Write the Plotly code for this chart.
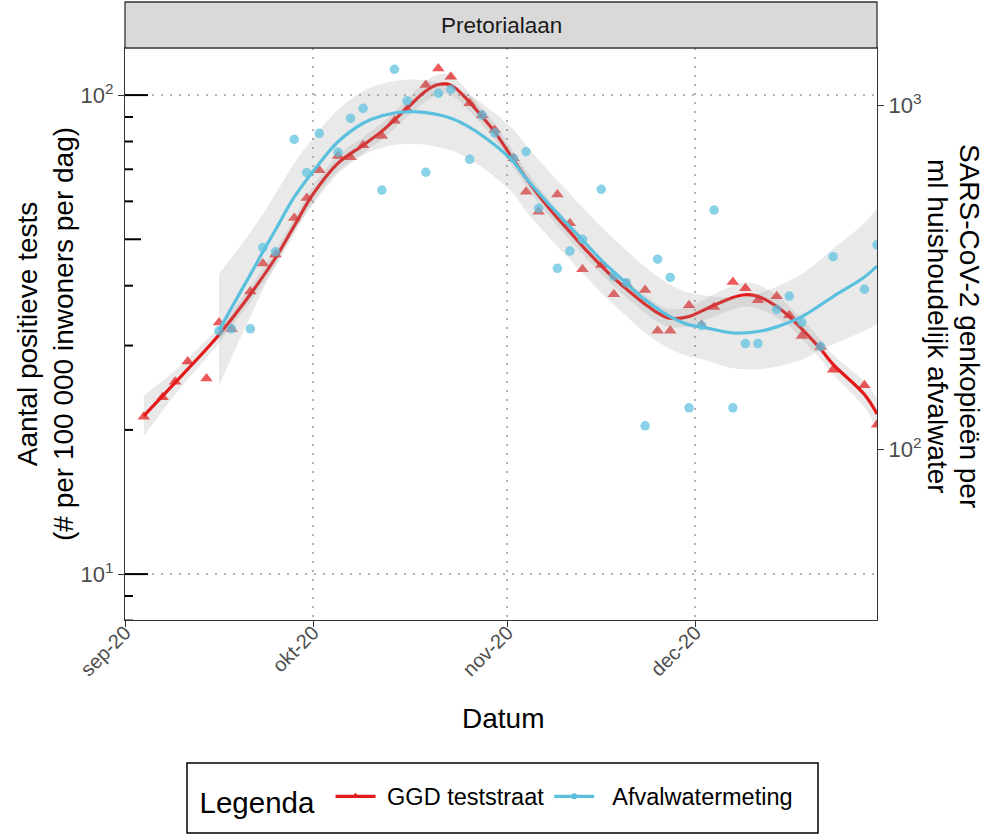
import math
import plotly.graph_objects as go

# ---- GGD teststraat: positive tests per 100 000 inhabitants per day ----
ggd_dates = [
    "2020-09-04", "2020-09-07", "2020-09-09", "2020-09-11", "2020-09-14", "2020-09-16",
    "2020-09-18", "2020-09-21", "2020-09-23", "2020-09-25", "2020-09-28", "2020-09-30",
    "2020-10-02", "2020-10-05", "2020-10-07", "2020-10-09", "2020-10-12", "2020-10-14",
    "2020-10-16", "2020-10-19", "2020-10-21", "2020-10-23", "2020-10-26", "2020-10-28",
    "2020-10-30", "2020-11-02", "2020-11-04", "2020-11-06", "2020-11-09", "2020-11-11",
    "2020-11-13", "2020-11-16", "2020-11-18", "2020-11-20", "2020-11-23", "2020-11-25",
    "2020-11-27", "2020-11-30", "2020-12-02", "2020-12-04", "2020-12-07", "2020-12-09",
    "2020-12-11", "2020-12-14", "2020-12-16", "2020-12-18", "2020-12-21", "2020-12-23",
    "2020-12-28", "2020-12-30",
]
ggd_values = [
    21.3, 23.4, 25.2, 27.8, 25.6, 33.5, 32.5, 38.9, 44.5, 46.5, 55.4, 61.0,
    69.7, 74.6, 74.2, 78.6, 82.1, 88.4, 93.4, 105.0, 113.7, 109.2, 96.1, 90.8,
    84.5, 73.8, 62.8, 57.1, 62.0, 54.0, 43.3, 44.2, 38.4, 40.4, 39.2, 32.2,
    32.2, 36.4, 33.1, 36.1, 40.7, 39.5, 37.3, 38.0, 34.7, 31.4, 29.8, 26.7,
    24.8, 20.5,
]

# ---- Afvalwatermeting: gene copies per ml household wastewater ----
rwzi_dates = [
    "2020-09-16", "2020-09-18", "2020-09-21", "2020-09-23", "2020-09-25", "2020-09-28",
    "2020-09-30", "2020-10-02", "2020-10-05", "2020-10-07", "2020-10-09", "2020-10-12",
    "2020-10-14", "2020-10-16", "2020-10-19", "2020-10-21", "2020-10-23", "2020-10-26",
    "2020-10-28", "2020-10-30", "2020-11-02", "2020-11-04", "2020-11-06", "2020-11-09",
    "2020-11-11", "2020-11-13", "2020-11-16", "2020-11-18", "2020-11-20", "2020-11-23",
    "2020-11-25", "2020-11-27", "2020-11-30", "2020-12-02", "2020-12-04", "2020-12-07",
    "2020-12-09", "2020-12-11", "2020-12-14", "2020-12-16", "2020-12-18", "2020-12-21",
    "2020-12-23", "2020-12-28", "2020-12-30",
]
rwzi_values = [
    221, 224, 224, 386, 375, 796, 637, 829, 730, 917, 980, 567,
    1273, 1031, 639, 1084, 1113, 697, 937, 832, 701, 733, 502, 336,
    377, 408, 570, 319, 305, 117, 357, 316, 132, 229, 496, 132,
    203, 203, 255, 279, 234, 199, 363, 292, 393,
]

# ---- smoothed trend (loess) with confidence band, GGD ----
ggd_fit_dates = [
    "2020-09-04", "2020-09-09", "2020-09-14", "2020-09-16", "2020-09-21", "2020-09-25",
    "2020-09-28", "2020-10-01", "2020-10-05", "2020-10-09", "2020-10-12", "2020-10-16",
    "2020-10-19", "2020-10-21", "2020-10-23", "2020-10-26", "2020-10-28", "2020-10-30",
    "2020-11-02", "2020-11-04", "2020-11-06", "2020-11-09", "2020-11-11", "2020-11-13",
    "2020-11-16", "2020-11-18", "2020-11-20", "2020-11-23", "2020-11-25", "2020-11-27",
    "2020-11-30", "2020-12-02", "2020-12-04", "2020-12-07", "2020-12-09", "2020-12-11",
    "2020-12-14", "2020-12-16", "2020-12-18", "2020-12-21", "2020-12-23", "2020-12-28",
    "2020-12-30",
]
ggd_fit = [
    21.4, 25.1, 29.5, 31.6, 38.4, 45.7, 53.3, 62.1, 72.1, 78.6, 84.1, 93.9,
    102.0, 105.2, 104.9, 96.6, 90.1, 83.8, 73.2, 67.1, 61.8, 55.4, 51.8, 48.4,
    44.0, 41.5, 39.4, 36.6, 35.1, 34.2, 34.5, 35.4, 36.4, 37.8, 38.3, 38.0,
    36.2, 34.5, 32.5, 29.5, 27.4, 23.7, 21.6,
]
ggd_fit_lo = [
    19.4, 23.7, 28.3, 30.4, 37.0, 44.0, 51.3, 59.8, 69.4, 75.7, 80.9, 89.9,
    97.2, 100.3, 100.0, 92.5, 86.7, 80.7, 70.5, 64.6, 59.5, 53.3, 49.9, 46.6,
    42.3, 39.9, 37.9, 35.1, 33.6, 32.8, 32.9, 33.7, 34.5, 35.7, 36.2, 35.9,
    34.3, 32.9, 31.0, 28.1, 26.1, 22.3, 20.0,
]
ggd_fit_hi = [
    23.6, 26.6, 30.8, 32.8, 39.9, 47.5, 55.4, 64.5, 74.9, 81.7, 87.4, 98.0,
    107.0, 110.4, 110.0, 100.9, 93.6, 87.1, 76.1, 69.7, 64.2, 57.6, 53.8, 50.3,
    45.7, 43.1, 40.9, 38.2, 36.6, 35.7, 36.2, 37.1, 38.4, 40.0, 40.6, 40.2,
    38.2, 36.2, 34.1, 30.9, 28.7, 25.2, 23.3,
]

# ---- smoothed trend (loess) with confidence band, wastewater ----
rwzi_fit_dates = [
    "2020-09-16", "2020-09-18", "2020-09-21", "2020-09-23", "2020-09-25", "2020-09-28",
    "2020-10-02", "2020-10-05", "2020-10-09", "2020-10-12", "2020-10-16", "2020-10-19",
    "2020-10-23", "2020-10-26", "2020-10-30", "2020-11-02", "2020-11-04", "2020-11-09",
    "2020-11-13", "2020-11-16", "2020-11-20", "2020-11-23", "2020-11-27", "2020-11-30",
    "2020-12-02", "2020-12-07", "2020-12-11", "2020-12-14", "2020-12-18", "2020-12-21",
    "2020-12-23", "2020-12-28", "2020-12-30",
]
rwzi_fit = [
    222, 258, 322, 375, 434, 541, 678, 784, 887, 933, 958, 952,
    917, 863, 767, 685, 614, 485, 406, 355, 304, 272, 243, 230,
    227, 218, 220, 227, 243, 263, 278, 317, 341,
]
rwzi_fit_lo = [
    153, 185, 243, 291, 341, 431, 544, 633, 716, 753, 773, 768,
    740, 697, 619, 553, 492, 389, 326, 285, 244, 218, 196, 186,
    183, 172, 171, 174, 182, 195, 202, 221, 231,
]
rwzi_fit_hi = [
    323, 361, 427, 483, 552, 679, 845, 971, 1099, 1156, 1187, 1180,
    1136, 1069, 950, 849, 766, 605, 506, 443, 379, 339, 301, 285,
    281, 276, 284, 297, 324, 356, 383, 455, 503,
]

# ---- axes ----
x_tick_dates = ["2020-09-01", "2020-10-01", "2020-11-01", "2020-12-01"]
x_tick_labels = ["sep-20", "okt-20", "nov-20", "dec-20"]
x_limits = ["2020-09-01", "2020-12-30"]
y_left_ticks = [10, 100]
y_left_labels = ["10<sup>1</sup>", "10<sup>2</sup>"]
y_left_limits = [8.02, 125.4]
y_right_ticks = [100, 1000]
y_right_labels = ["10<sup>2</sup>", "10<sup>3</sup>"]
y_right_limits = [31.9, 1468]
log_ticks = [8, 9, 10, 20, 30, 40, 50, 60, 70, 80, 90, 100]
right_title_lines = ["SARS-CoV-2 genkopieën per", "ml huishoudelijk afvalwater"]

RED = "#e31a1c"
BLUE = "#5bc0de"
BAND = "rgba(153,153,153,0.22)"
FONT = "Liberation Sans, Arial, sans-serif"

W, H = 990, 838
ML, MR, MT, MB = 125, 113, 48, 218
PW, PH = W - ML - MR, H - MT - MB


def paper_x(px):
    return (px - ML) / PW


def paper_y(py):
    return (H - MB - py) / PH


fig = go.Figure()

# confidence bands
fig.add_trace(go.Scatter(x=ggd_fit_dates, y=ggd_fit_lo, mode="lines", line=dict(width=0, shape="spline"),
                         hoverinfo="skip", showlegend=False))
fig.add_trace(go.Scatter(x=ggd_fit_dates, y=ggd_fit_hi, mode="lines", line=dict(width=0, shape="spline"),
                         fill="tonexty", fillcolor=BAND, hoverinfo="skip", showlegend=False))
fig.add_trace(go.Scatter(x=rwzi_fit_dates, y=rwzi_fit_lo, mode="lines", line=dict(width=0, shape="spline"),
                         yaxis="y2", hoverinfo="skip", showlegend=False))
fig.add_trace(go.Scatter(x=rwzi_fit_dates, y=rwzi_fit_hi, mode="lines", line=dict(width=0, shape="spline"),
                         fill="tonexty", fillcolor=BAND, yaxis="y2", hoverinfo="skip", showlegend=False))

# trend lines
fig.add_trace(go.Scatter(x=rwzi_fit_dates, y=rwzi_fit, mode="lines", yaxis="y2",
                         line=dict(color=BLUE, width=3.2, shape="spline"), showlegend=False))
fig.add_trace(go.Scatter(x=ggd_fit_dates, y=ggd_fit, mode="lines",
                         line=dict(color=RED, width=3.2, shape="spline"), showlegend=False))

# measurements
fig.add_trace(go.Scatter(x=ggd_dates, y=ggd_values, mode="markers",
                         marker=dict(symbol="triangle-up", size=11, color=RED, opacity=0.72),
                         showlegend=False))
fig.add_trace(go.Scatter(x=rwzi_dates, y=rwzi_values, mode="markers", yaxis="y2",
                         marker=dict(symbol="circle", size=9.5, color=BLUE, opacity=0.72),
                         showlegend=False))

# legend entries
fig.add_trace(go.Scatter(x=[None], y=[None], mode="lines+markers", name="\u00a0GGD teststraat",
                         line=dict(color=RED, width=3.2),
                         marker=dict(symbol="triangle-up", size=7, color=RED)))
fig.add_trace(go.Scatter(x=[None], y=[None], mode="lines+markers", name="\u00a0\u00a0Afvalwatermeting",
                         line=dict(color=BLUE, width=3.2),
                         marker=dict(symbol="circle", size=6, color=BLUE)))

shapes = []
# log ticks along the inside of the left axis
for v in log_ticks:
    exp = math.log10(v)
    if abs(exp - round(exp)) < 1e-9:
        length = 23
    elif abs(v / 10 ** math.floor(exp) - 5) < 1e-9:
        length = 16
    else:
        length = 8
    shapes.append(dict(type="line", xref="paper", yref="y", x0=0, x1=length / PW, y0=v, y1=v,
                       line=dict(color="black", width=2)))

# facet strip
shapes.append(dict(type="rect", xref="paper", yref="paper", x0=0, x1=1, y0=1, y1=paper_y(2),
                   fillcolor="#d9d9d9", line=dict(color="#333333", width=1.3), layer="above"))
# legend frame
shapes.append(dict(type="rect", xref="paper", yref="paper", x0=paper_x(187), x1=paper_x(818),
                   y0=paper_y(763), y1=paper_y(833), fillcolor="rgba(0,0,0,0)",
                   line=dict(color="black", width=1.5)))

annotations = [
    dict(text="Pretorialaan", xref="paper", yref="paper", x=0.5, y=paper_y(25),
         xanchor="center", yanchor="middle", showarrow=False,
         font=dict(size=22.5, color="#1a1a1a", family=FONT)),
    dict(text="Datum", xref="paper", yref="paper", x=paper_x(503), y=paper_y(718),
         xanchor="center", yanchor="middle", showarrow=False,
         font=dict(size=28, color="black", family=FONT)),
    dict(text="Aantal positieve tests<br>(# per 100 000 inwoners per dag)", xref="paper", yref="paper",
         x=paper_x(45), y=paper_y(334), xanchor="center", yanchor="middle", textangle=-90,
         showarrow=False, font=dict(size=28, color="black", family=FONT)),
]
# secondary axis title, one rotated line each (first line outermost)
for line_text, cx in zip(right_title_lines, [970, 938]):
    annotations.append(dict(text=line_text, xref="paper", yref="paper", x=paper_x(cx), y=paper_y(326),
                            xanchor="center", yanchor="middle", textangle=90, showarrow=False,
                            font=dict(size=28, color="black", family=FONT)))

grid_dash = "2px,7px"
fig.update_layout(
    width=W, height=H,
    margin=dict(l=ML, r=MR, t=MT, b=MB, pad=0),
    paper_bgcolor="white", plot_bgcolor="white",
    font=dict(family=FONT, color="black"),
    showlegend=True,
    legend=dict(orientation="h", x=paper_x(498), xanchor="center", y=paper_y(799), yanchor="middle",
                traceorder="normal",
                title=dict(text="Legenda ", font=dict(size=29.5, color="black"), side="left"),
                font=dict(size=23.5, color="black"), bgcolor="rgba(0,0,0,0)", borderwidth=0,
                itemwidth=40, itemclick=False),
    xaxis=dict(type="date", range=x_limits, tickmode="array", tickvals=x_tick_dates,
               ticktext=x_tick_labels, tickangle=-45, ticks="outside", ticklen=6, tickwidth=1.3,
               tickcolor="#333333", tickfont=dict(size=20, color="#4d4d4d"), ticklabelstandoff=-14,
               showline=True, mirror=True, linecolor="#333333", linewidth=1.3,
               showgrid=True, gridcolor="#b3b3b3", gridwidth=1.6, griddash=grid_dash,
               zeroline=False, automargin=False),
    yaxis=dict(type="log", range=[math.log10(y_left_limits[0]), math.log10(y_left_limits[1])],
               tickmode="array", tickvals=y_left_ticks, ticktext=y_left_labels,
               ticks="outside", ticklen=6, tickwidth=1.3, tickcolor="#333333",
               tickfont=dict(size=22, color="#4d4d4d"),
               showline=True, mirror=True, linecolor="#333333", linewidth=1.3,
               showgrid=True, gridcolor="#b3b3b3", gridwidth=1.6, griddash=grid_dash,
               zeroline=False, automargin=False),
    yaxis2=dict(type="log", overlaying="y", side="right", anchor="x",
                range=[math.log10(y_right_limits[0]), math.log10(y_right_limits[1])],
                tickmode="array", tickvals=y_right_ticks, ticktext=y_right_labels,
                ticks="outside", ticklen=6, tickwidth=1.3, tickcolor="#333333",
                tickfont=dict(size=22, color="#4d4d4d"),
                showline=False, showgrid=False, zeroline=False, automargin=False),
    shapes=shapes,
    annotations=annotations,
)

fig.write_html("out.html")
